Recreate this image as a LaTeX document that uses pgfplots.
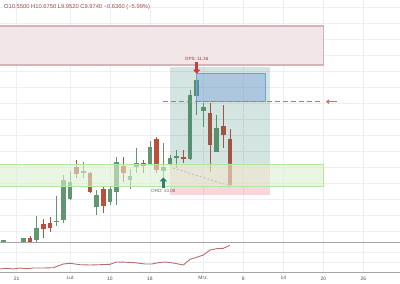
\documentclass[border=0pt]{standalone}
\usepackage{pgfplots}
\pgfplotsset{compat=1.18}
\usepackage{pgfplotstable}
\usepackage{fontspec}
\setmainfont{Liberation Sans}
\usetikzlibrary{arrows.meta}

\definecolor{cgreen}{RGB}{98,150,112}
\definecolor{cred}{RGB}{188,78,60}
\definecolor{gridc}{RGB}{236,239,245}
\definecolor{sepc}{RGB}{165,165,165}
\definecolor{pinkfill}{RGB}{243,230,232}
\definecolor{pinkdraw}{RGB}{212,180,186}
\definecolor{zonefill}{RGB}{220,240,210}
\definecolor{zonedraw}{RGB}{178,230,156}
\definecolor{tealfill}{RGB}{40,120,100}
\definecolor{stopfill}{RGB}{230,90,110}
\definecolor{bluefill}{RGB}{100,150,220}
\definecolor{bluedraw}{RGB}{110,160,230}
\definecolor{dashred}{RGB}{228,100,100}
\definecolor{arrowred}{RGB}{200,60,60}
\definecolor{arrowteal}{RGB}{45,130,110}
\definecolor{lblred}{RGB}{150,60,55}
\definecolor{lblgray}{RGB}{95,105,105}
\definecolor{hdrgray}{RGB}{85,85,85}
\definecolor{hdrred}{RGB}{165,80,70}
\definecolor{indic}{RGB}{180,110,110}
\definecolor{ticklbl}{RGB}{80,80,80}

% green (rising) candles: index, open, high, low, close
\pgfplotstableread{
i o h l c
-3 9.283 9.290 9.276 9.286
0 9.263 9.316 9.262 9.313
2 9.291 9.591 9.258 9.445
5 9.520 9.841 9.466 9.528
6 9.541 10.104 9.508 10.041
7 9.804 10.154 9.791 10.012
9 10.133 10.262 10.070 10.150
11 9.708 9.916 9.604 9.854
13 9.770 9.966 9.729 9.925
14 9.895 10.325 9.729 10.262
16 10.041 10.175 9.925 10.091
17 10.200 10.437 10.125 10.250
19 10.237 10.533 10.229 10.450
21 10.158 10.500 10.083 10.208
22 10.225 10.354 10.216 10.312
23 10.320 10.416 10.187 10.338
25 10.300 11.166 10.291 11.104
26 11.091 11.360 10.854 11.291
27 10.908 11.004 10.704 10.950
29 10.395 10.854 10.391 10.695
}\greencandles

% red (falling) candles
\pgfplotstableread{
i o h l c
1 9.320 9.341 9.265 9.270
3 9.491 9.554 9.316 9.432
4 9.500 9.579 9.391 9.437
8 10.200 10.291 10.062 10.120
10 10.125 10.140 9.875 9.887
12 9.925 9.958 9.625 9.716
15 10.216 10.329 10.016 10.125
18 10.258 10.291 10.129 10.216
20 10.550 10.583 10.125 10.166
24 10.333 10.416 10.250 10.300
28 10.875 11.000 10.145 10.479
30 10.716 10.979 10.437 10.604
31 10.550 10.675 9.952 9.974
}\redcandles

% lower indicator panel
\pgfplotstableread{
i v
-3.5 3.0
-2.5 3.7
-1.5 3.0
-0.5 4.0
0.5 3.3
1.5 4.0
3 4.0
4.5 4.3
6 8.0
7 8.7
8.5 7.3
10 7.0
11.5 7.3
13 7.7
14 10.0
15.25 9.8
16.75 9.3
18.25 8.0
19.25 8.0
20.25 9.3
21.25 10.0
22.75 8.7
24 7.0
25 12.7
26 14.7
27 17.0
28 22.0
29 23.3
30 23.7
31 26.7
}\indicator

\begin{document}
\begin{tikzpicture}
\pgfplotsset{
  wick/.style={draw=none, mark=none, forget plot,
    error bars/.cd, y dir=both, y explicit, error mark=none,
    error bar style={draw=#1, solid, line width=0.9bp}},
  body/.style={draw=none, mark=none, forget plot,
    error bars/.cd, y dir=both, y explicit, error mark=none,
    error bar style={draw=#1, solid, line width=4.8bp}},
}
\begin{axis}[
  at={(0,0)}, anchor=north west,
  scale only axis, width=400bp, height=242bp,
  xmin=-3.5, xmax=56.5, ymin=9.266, ymax=12.291,
  axis line style={draw=none}, tick style={draw=none},
  xtick={-1,7,13,19,27,33,39,45,51}, xticklabels={},
  ytick={9.4,9.6,9.8,10.0,10.2,10.4,10.6,10.8,11.0,11.2,11.4,11.6,11.8,12.0,12.2}, yticklabels={},
  grid=major, major grid style={draw=gridc, line width=0.6bp},
]
% wicks
\addplot[wick=cgreen] table[x=i, y expr={(\thisrow{h}+\thisrow{l})/2}, y error expr={(\thisrow{h}-\thisrow{l})/2}] {\greencandles};
\addplot[wick=cred] table[x=i, y expr={(\thisrow{h}+\thisrow{l})/2}, y error expr={(\thisrow{h}-\thisrow{l})/2}] {\redcandles};
% bodies
\addplot[body=cgreen] table[x=i, y expr={(\thisrow{o}+\thisrow{c})/2}, y error expr={max(abs(\thisrow{o}-\thisrow{c})/2,0.006)}] {\greencandles};
\addplot[body=cred] table[x=i, y expr={(\thisrow{o}+\thisrow{c})/2}, y error expr={max(abs(\thisrow{o}-\thisrow{c})/2,0.006)}] {\redcandles};

% top resistance box
\filldraw[fill=pinkfill, draw=pinkdraw, line width=1.2bp] (axis cs:-3.8,11.479) rectangle (axis cs:45,11.966);
% position tool
\fill[tealfill, fill opacity=0.2] (axis cs:22,10.25) rectangle (axis cs:37,11.457);
\fill[stopfill, fill opacity=0.25] (axis cs:22,9.854) rectangle (axis cs:37,10.25);
% support zone
\filldraw[fill=zonefill, fill opacity=0.6, draw=zonedraw, line width=1bp] (axis cs:-3.8,9.966) rectangle (axis cs:45,10.241);
% blue target box
\filldraw[fill=bluefill, fill opacity=0.35, draw=bluedraw, line width=0.8bp] (axis cs:26,11.02) rectangle (axis cs:36.25,11.375);
% dashed lines
\draw[dashred, line width=1.3bp, dash pattern=on 5bp off 3bp] (axis cs:21,11.02) -- (axis cs:44.5,11.02);
\draw[dashred, line width=1.4bp, -{Triangle[width=4.5bp,length=3bp]}] (axis cs:47,11.02) -- (axis cs:45.4,11.02);
\draw[gray!60, line width=0.6bp, dash pattern=on 2bp off 2bp] (axis cs:22.45,10.191) -- (axis cs:31,9.966);
% OPS / ORD markers
\draw[arrowred, line width=2.4bp, -{Triangle[width=7bp,length=4bp]}] (axis cs:26,11.51) -- (axis cs:26,11.37);
\node[text=lblred, font=\fontsize{4.6}{5}\selectfont, inner sep=0pt] at (axis cs:26,11.555) {OPS: 11.36};
\draw[arrowteal, line width=2.4bp, -{Triangle[width=7bp,length=4bp]}] (axis cs:21,9.945) -- (axis cs:21,10.075);
\node[text=lblgray, font=\fontsize{4.6}{5}\selectfont, inner sep=0pt] at (axis cs:21,9.910) {ORD: 10.08};
\end{axis}

\begin{axis}[
  at={(0,-242bp)}, anchor=north west,
  scale only axis, width=400bp, height=30bp,
  xmin=-3.5, xmax=56.5, ymin=0, ymax=30,
  axis line style={draw=none}, tick style={draw=none},
  xtick={-1,7,13,19,27,33,39,45,51},
  xticklabels={21,Lut,10,18,Mrz.,8,14,20,26},
  xticklabel style={font=\fontsize{5}{6}\selectfont, text=ticklbl, yshift=-1bp},
  ytick={10,20}, yticklabels={},
  grid=major, major grid style={draw=gridc, line width=0.6bp},
]
\addplot[indic, line width=0.9bp, mark=none] table[x=i, y=v] {\indicator};
\end{axis}

\draw[sepc, line width=1bp] (0,-242bp) -- (400bp,-242bp);
\draw[sepc, line width=1bp] (0,-272bp) -- (400bp,-272bp);

\node[anchor=west, inner sep=0pt, font=\fontsize{5.8}{7}\selectfont] at (4bp,-7bp)
  {\textcolor{hdrgray}{O}\textcolor{hdrred}{10.5500} \textcolor{hdrgray}{H}\textcolor{hdrred}{10.6750} \textcolor{hdrgray}{L}\textcolor{hdrred}{9.9520} \textcolor{hdrgray}{C}\textcolor{hdrred}{9.9740} \textcolor{hdrred}{−0.6360 (−5.99\%)}};

\pgfresetboundingbox
\path[use as bounding box] (0,0) rectangle (400bp,-284bp);
\end{tikzpicture}
\end{document}
